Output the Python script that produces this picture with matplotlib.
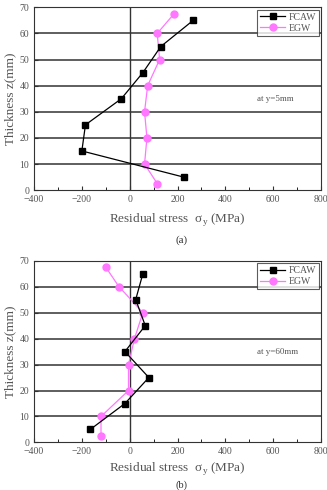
import matplotlib
matplotlib.use('Agg')
import matplotlib.pyplot as plt
from matplotlib.ticker import MultipleLocator

plt.rcParams['font.family'] = ['Liberation Serif', 'DejaVu Serif']

# panel (a), y = 5 mm
A_FCAW_X = [265, 130, 55, -35, -185, -200, 225]
A_FCAW_Z = [65, 55, 45, 35, 25, 15, 5]
A_EGW_X = [185, 115, 125, 75, 62, 72, 62, 115]
A_EGW_Z = [67.5, 60, 50, 40, 30, 20, 10, 2.5]

# panel (b), y = 60 mm
B_FCAW_X = [55, 25, 65, -20, 80, -20, -165]
B_FCAW_Z = [65, 55, 45, 35, 25, 15, 5]
B_EGW_X = [-100, -45, 55, 20, -5, -5, -120, -120]
B_EGW_Z = [67.5, 60, 50, 40, 30, 20, 10, 2.5]

XTICKS = [-400, -200, 0, 200, 400, 600, 800]
XTICKLABELS = ['\u2212400', '\u2212200', '0', '200', '400', '600', '800']

PANELS = [
    (A_FCAW_X, A_FCAW_Z, A_EGW_X, A_EGW_Z, 'at y=5mm', 5),
    (B_FCAW_X, B_FCAW_Z, B_EGW_X, B_EGW_Z, 'at y=60mm', 3),
]

TXT = '#555555'


def draw(ax, fx, fz, ex, ez, note, pad):
    for z in range(10, 70, 10):
        ax.axhline(z, color='#333333', lw=1.1, zorder=1)
    ax.axvline(0, color='#333333', lw=1.0, zorder=1)
    ax.plot(fx, fz, '-', color='black', lw=0.9, marker='s', ms=4.5,
            label='FCAW', zorder=3)
    ax.plot(ex, ez, '-', color='#ff77ff', lw=0.9, marker='o', ms=5,
            label='EGW', zorder=2)
    ax.set_xlim(-400, 800)
    ax.set_ylim(0, 70)
    ax.set_xticks(XTICKS)
    ax.set_xticklabels(XTICKLABELS)
    ax.xaxis.set_minor_locator(MultipleLocator(100))
    ax.yaxis.set_major_locator(MultipleLocator(10))
    ax.tick_params(direction='in', labelsize=7, colors='#333333',
                   labelcolor=TXT, length=3, top=False, right=False)
    ax.tick_params(which='minor', direction='in', length=2)
    for s in ax.spines.values():
        s.set_color('#333333')
    ax.set_ylabel('Thickness z(mm)', fontsize=9.5, color=TXT, labelpad=2)
    ax.set_xlabel('Residual stress  \u03c3$_\\mathregular{y}$ (MPa)',
                  fontsize=9.5, color=TXT, labelpad=pad)
    ax.text(530, 34, note, fontsize=6.5, color=TXT)
    leg = ax.legend(loc='upper right', fontsize=7, frameon=True,
                    fancybox=False, borderaxespad=0.25, handlelength=2.6,
                    labelspacing=0.2, borderpad=0.3, handletextpad=0.3)
    leg.get_frame().set_edgecolor('#333333')
    leg.get_frame().set_linewidth(0.8)
    for t in leg.get_texts():
        t.set_color(TXT)


fig = plt.figure(figsize=(3.27, 4.90), dpi=100)
ax1 = fig.add_axes([0.104, 0.612, 0.878, 0.373])
ax2 = fig.add_axes([0.104, 0.097, 0.878, 0.371])
for ax, p in zip([ax1, ax2], PANELS):
    draw(ax, *p)

fig.text(0.555, 1 - 240 / 490, '(a)', ha='center', va='center',
         fontsize=8, color='#333333')
fig.text(0.555, 0.0, '(b)', ha='center', va='bottom',
         fontsize=7.5, color='#333333')

plt.savefig('out.png', dpi=100)
